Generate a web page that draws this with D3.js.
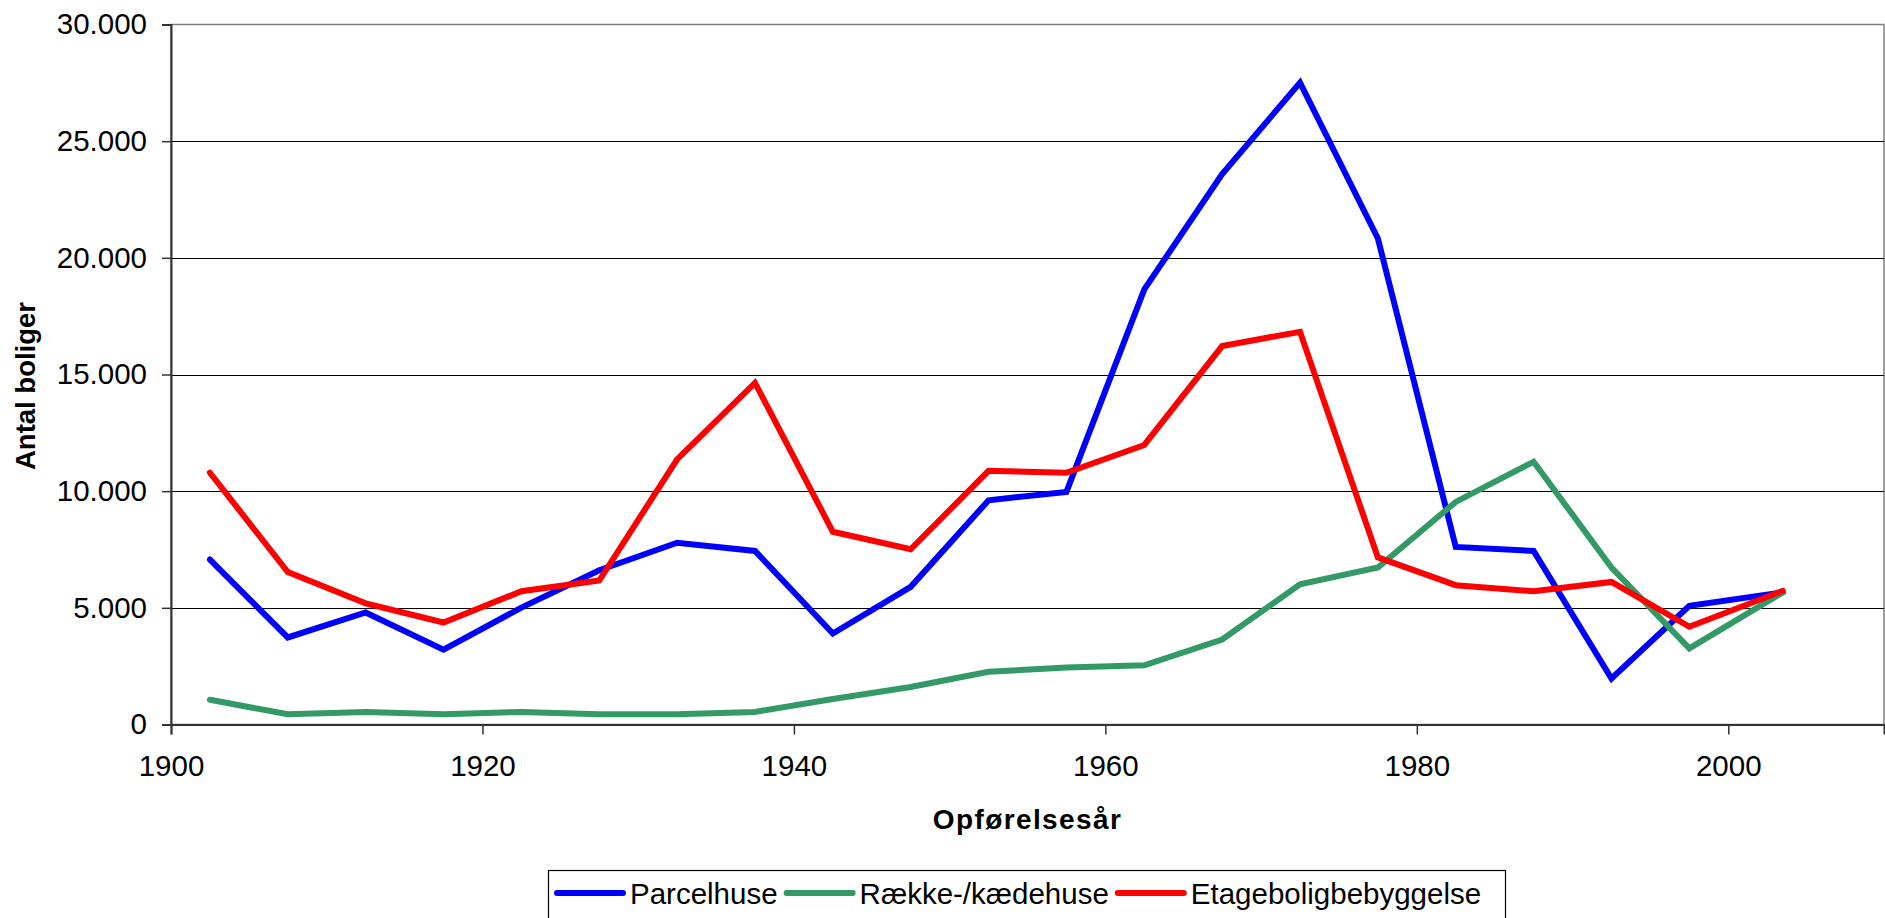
<!DOCTYPE html>
<html>
<head>
<meta charset="utf-8">
<script src="https://cdn.jsdelivr.net/npm/d3@7"></script>
<style>
  body { margin: 0; background: #fff; }
  svg text { font-family: "Liberation Sans", Arial, sans-serif; fill: #000; }
</style>
</head>
<body>
<svg id="chart" width="1885" height="918"></svg>
<script>
// midpoints of the building periods
var years = [1902.5, 1907.5, 1912.5, 1917.5, 1922.5, 1927.5, 1932.5, 1937.5, 1942.5, 1947.5,
  1952.5, 1957.5, 1962.5, 1967.5, 1972.5, 1977.5, 1982.5, 1987.5, 1992.5, 1997.5, 2003.5];
var parcelhuse = [7070, 3730, 4800, 3210, 5010, 6610, 7790, 7440, 3900, 5900,
  9610, 9970, 18650, 23590, 27510, 20830, 7610, 7440, 1970, 5090, 5660];
var raekkehuse = [1060, 440, 540, 440, 540, 440, 440, 540, 1090, 1610,
  2260, 2440, 2540, 3640, 6010, 6730, 9540, 11260, 6730, 3260, 5660];
var etagebolig = [10790, 6530, 5190, 4370, 5710, 6170, 11360, 14640, 8260, 7510,
  10870, 10790, 11980, 16220, 16830, 7160, 5970, 5710, 6110, 4190, 5730];
var seriesNames = ["Parcelhuse", "Række-/kædehuse", "Etageboligbebyggelse"];
var xTicks = [1900, 1920, 1940, 1960, 1980, 2000];
var yTicks = [0, 5000, 10000, 15000, 20000, 25000, 30000];

var colors = ["#0000ff", "#339966", "#ff0000"];
var allSeries = [parcelhuse, raekkehuse, etagebolig];

var svg = d3.select("#chart");
var plotLeft = 171, plotRight = 1884, plotTop = 24.5, plotBottom = 724.5;

var x = d3.scaleLinear().domain([1900, 2010]).range([plotLeft, plotRight]);
var y = d3.scaleLinear().domain([0, 30000]).range([plotBottom, plotTop]);

var dk = d3.formatLocale({ decimal: ",", thousands: ".", grouping: [3], currency: ["", " kr."] });
var fmt = dk.format(",d");

// plot area border
svg.append("rect")
  .attr("x", plotLeft).attr("y", plotTop)
  .attr("width", plotRight - plotLeft).attr("height", plotBottom - plotTop)
  .attr("fill", "none").attr("stroke", "#808080").attr("stroke-width", 1.5);

// gridlines
svg.append("g")
  .selectAll("line")
  .data(yTicks.slice(1, -1))
  .enter()
  .append("line")
  .attr("x1", plotLeft).attr("x2", plotRight)
  .attr("y1", function (d) { return Math.round(y(d)) + 0.5; })
  .attr("y2", function (d) { return Math.round(y(d)) + 0.5; })
  .attr("stroke", "#000").attr("stroke-width", 1.2);

// axes
var yAxis = svg.append("g")
  .attr("transform", "translate(" + plotLeft + ",0)")
  .call(d3.axisLeft(y).tickValues(yTicks).tickFormat(fmt).tickSizeOuter(0).tickSize(9).tickPadding(15));
var xAxis = svg.append("g")
  .attr("transform", "translate(0," + plotBottom + ")")
  .call(d3.axisBottom(x).tickValues(xTicks).tickFormat(d3.format("d")).tickSizeOuter(0).tickSize(10).tickPadding(21));

[yAxis, xAxis].forEach(function (ax) {
  ax.select(".domain").attr("stroke", "#333").attr("stroke-width", 2);
  ax.selectAll(".tick line").attr("stroke", "#333").attr("stroke-width", 1.5);
  ax.selectAll(".tick text").attr("font-size", 29.5).attr("fill", "#000")
    .style("font-family", '"Liberation Sans", Arial, sans-serif');
});

// series lines
var line = d3.line()
  .x(function (d, i) { return x(years[i]); })
  .y(function (d) { return y(d); });

svg.append("g")
  .selectAll("path")
  .data(allSeries)
  .enter()
  .append("path")
  .attr("d", line)
  .attr("fill", "none")
  .attr("stroke", function (d, i) { return colors[i]; })
  .attr("stroke-width", 6)
  .attr("stroke-linejoin", "miter")
  .attr("stroke-linecap", "round");

// axis titles
svg.append("text")
  .attr("x", (plotLeft + plotRight) / 2).attr("y", 829)
  .attr("text-anchor", "middle")
  .attr("font-size", 28).attr("font-weight", "bold")
  .attr("letter-spacing", 1.4)
  .text("Opførelsesår");

svg.append("text")
  .attr("transform", "translate(35,386) rotate(-90)")
  .attr("text-anchor", "middle")
  .attr("font-size", 27.5).attr("font-weight", "bold")
  .text("Antal boliger");

// legend
var legend = svg.append("g");
legend.append("rect")
  .attr("x", 548.5).attr("y", 870.5)
  .attr("width", 957).attr("height", 60)
  .attr("fill", "#fff").attr("stroke", "#000").attr("stroke-width", 1.2);

var lx = 557;
seriesNames.forEach(function (name, i) {
  legend.append("line")
    .attr("x1", lx).attr("x2", lx + 66)
    .attr("y1", 893).attr("y2", 893)
    .attr("stroke", colors[i]).attr("stroke-width", 6)
    .attr("stroke-linecap", "round");
  var t = legend.append("text")
    .attr("x", lx + 73).attr("y", 904)
    .attr("font-size", 29.5)
    .text(name);
  lx = lx + 73 + t.node().getComputedTextLength() + 9;
});
</script>
</body>
</html>
